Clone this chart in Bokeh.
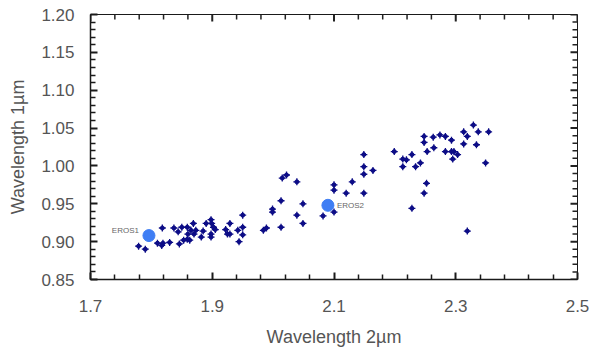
from bokeh.plotting import figure
from bokeh.models import ColumnDataSource, FixedTicker, Range1d
from bokeh.core.properties import value
from bokeh.embed import file_html
from bokeh.resources import INLINE

# Asteroid band centres
band2_um = [1.779, 1.790, 1.810, 1.817, 1.819, 1.818, 1.830, 1.837, 1.844, 1.846,
            1.850, 1.853, 1.859, 1.860, 1.859, 1.863, 1.865, 1.869, 1.870, 1.873,
            1.882, 1.885, 1.890, 1.898, 1.899, 1.898, 1.902, 1.905, 1.898, 1.922,
            1.925, 1.929, 1.929, 1.942, 1.944, 1.950, 1.950, 1.950, 1.984, 1.989,
            1.999, 1.999, 2.013, 2.013, 2.015, 2.022, 2.039, 2.039, 2.049, 2.049,
            2.082, 2.100, 2.100, 2.100, 2.120, 2.130, 2.149, 2.149, 2.149, 2.149,
            2.164, 2.199, 2.213, 2.219, 2.213, 2.228, 2.228, 2.234, 2.242, 2.248,
            2.248, 2.252, 2.248, 2.253, 2.263, 2.264, 2.274, 2.283, 2.293, 2.283,
            2.293, 2.297, 2.295, 2.303, 2.313, 2.313, 2.319, 2.319, 2.329, 2.337,
            2.334, 2.349, 2.354]
band1_um = [0.894, 0.890, 0.898, 0.895, 0.898, 0.918, 0.899, 0.918, 0.913, 0.897,
            0.919, 0.902, 0.919, 0.910, 0.903, 0.902, 0.915, 0.924, 0.910, 0.915,
            0.906, 0.914, 0.924, 0.929, 0.924, 0.910, 0.919, 0.916, 0.906, 0.916,
            0.910, 0.910, 0.924, 0.915, 0.900, 0.919, 0.935, 0.909, 0.915, 0.918,
            0.943, 0.939, 0.954, 0.919, 0.984, 0.988, 0.979, 0.935, 0.950, 0.924,
            0.934, 0.975, 0.968, 0.939, 0.964, 0.979, 1.015, 0.999, 0.989, 0.964,
            0.994, 1.019, 1.009, 1.008, 0.999, 1.015, 0.944, 0.999, 1.004, 1.039,
            1.031, 0.977, 0.964, 1.019, 1.038, 1.024, 1.041, 1.039, 1.034, 1.019,
            1.019, 1.019, 1.009, 1.015, 1.045, 1.029, 1.039, 0.914, 1.054, 1.045,
            1.028, 1.004, 1.045]

eros_names = ["EROS1", "EROS2"]
eros_band2 = [1.796, 2.090]
eros_band1 = [0.908, 0.948]

x_ticks = [1.7, 1.9, 2.1, 2.3, 2.5]
x_minor = [1.74, 1.78, 1.82, 1.86, 1.94, 1.98, 2.02, 2.06, 2.14, 2.18, 2.22, 2.26,
           2.34, 2.38, 2.42, 2.46]
y_ticks = [0.85, 0.90, 0.95, 1.00, 1.05, 1.10, 1.15, 1.20]
y_minor = [round(0.85 + 0.01 * i, 2) for i in range(36) if i % 5]

X0, X1 = 1.7, 2.5
Y0, Y1 = 0.85, 1.20
W, H = 592, 351
BL, BR, BT, BB = 90, 15, 14, 72
FW, FH = W - BL - BR, H - BT - BB
DX = (X1 - X0) / FW   # data units per pixel
DY = (Y1 - Y0) / FH
FONT = "Liberation Sans"
TXT = "#555555"
INK = "#1a1a1a"

p = figure(width=W, height=H, output_backend="svg", toolbar_location=None,
           x_range=Range1d(X0, X1), y_range=Range1d(Y0, Y1),
           min_border_left=BL, min_border_right=BR, min_border_top=BT,
           min_border_bottom=BB)
p.grid.visible = False
p.outline_line_color = INK


def style(ax, ticks, minor):
    ax.ticker = FixedTicker(ticks=ticks, minor_ticks=minor)
    ax.axis_line_color = INK
    ax.axis_line_width = 1.5
    ax.major_tick_in = 7
    ax.major_tick_out = 0
    ax.minor_tick_in = 5
    ax.minor_tick_out = 0
    ax.major_tick_line_color = INK
    ax.minor_tick_line_color = INK
    ax.major_tick_line_width = 2
    ax.minor_tick_line_width = 1.5
    ax.major_label_text_font = FONT
    ax.major_label_text_font_size = "17px"
    ax.major_label_text_color = TXT
    ax.axis_label_text_font = FONT
    ax.axis_label_text_font_size = "18px"
    ax.axis_label_text_font_style = "normal"
    ax.axis_label_text_color = TXT


xa = p.xaxis[0]
style(xa, x_ticks, x_minor)
xa.axis_label = "Wavelength 2µm"
xa.major_label_standoff = 20
xa.axis_label_standoff = 12
xa.major_label_overrides = {v: f"{v:.1f}" for v in x_ticks}

ya = p.yaxis[0]
style(ya, y_ticks, y_minor)
ya.axis_label = "Wavelength 1µm"
ya.major_label_standoff = 16
ya.axis_label_standoff = 10
ya.major_label_overrides = {v: f"{v:.2f}" for v in y_ticks}

# mirrored inward tick marks on the top and right edges, lengths in pixels
for ticks, ln, lw in ((x_ticks, 7, 2.0), (x_minor, 5, 1.5)):
    n = len(ticks)
    p.segment(x0=ticks, y0=[Y1] * n, x1=ticks, y1=[Y1 - ln * DY] * n,
              line_color="#222222", line_width=lw)
for ticks, ln, lw in ((y_ticks, 7, 2.0), (y_minor, 5, 1.5)):
    n = len(ticks)
    p.segment(x0=[X1] * n, y0=ticks, x1=[X1 - ln * DX] * n, y1=ticks,
              line_color="#222222", line_width=lw)

src = ColumnDataSource(dict(x=band2_um, y=band1_um))
p.scatter("x", "y", source=src, marker="cross", size=7, line_color="#0c0c86",
          line_width=1.3)
p.scatter("x", "y", source=src, marker="circle", size=4, fill_color="#0c0c86",
          line_color="#0c0c86")

esrc = ColumnDataSource(dict(x=eros_band2, y=eros_band1, name=eros_names))
p.scatter("x", "y", source=esrc, marker="circle", size=12, fill_color="#3f7ef4",
          line_color="#3f7ef4")

s1 = ColumnDataSource(dict(x=eros_band2[:1], y=eros_band1[:1], t=eros_names[:1]))
s2 = ColumnDataSource(dict(x=eros_band2[1:], y=eros_band1[1:], t=eros_names[1:]))
p.text("x", "y", text="t", source=s1, text_align="right", text_baseline="middle",
       x_offset=-10, y_offset=-5, text_font=value(FONT), text_font_size="8px",
       text_color="#666666")
p.text("x", "y", text="t", source=s2, text_align="left", text_baseline="middle",
       x_offset=9, y_offset=0, text_font=value(FONT), text_font_size="8px",
       text_color="#666666")

open("out.html", "w").write(file_html(p, INLINE))
